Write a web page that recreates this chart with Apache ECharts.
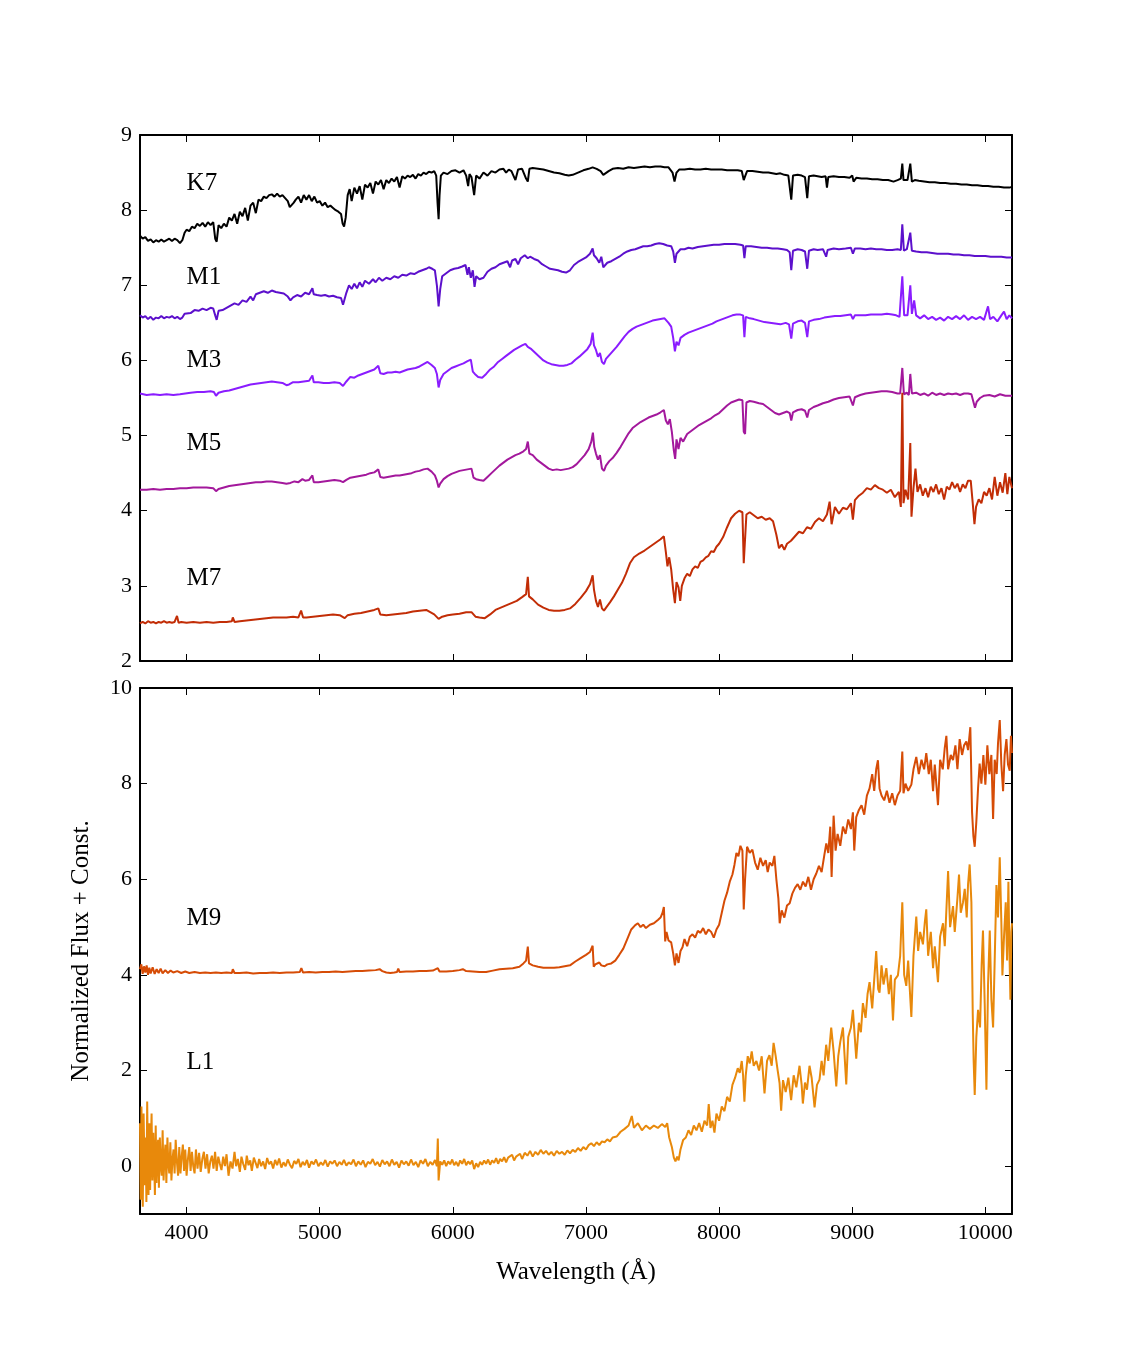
<!DOCTYPE html>
<html>
<head>
<meta charset="utf-8">
<script src="https://cdn.jsdelivr.net/npm/echarts@6/dist/echarts.min.js"></script>
<style>
  html, body { margin: 0; background: #fff; }
  #chart { width: 1125px; height: 1350px; }
</style>
</head>
<body>
<div id="chart"></div>
<script>
// spectra: [wavelength (A), normalized flux + const]
const k7 = [[3650,7.66],[3670,7.62],[3690,7.64],[3710,7.59],[3730,7.61],[3750,7.57],[3770,7.6],[3790,7.58],[3810,7.61],[3830,7.58],[3850,7.6],[3870,7.62],[3890,7.59],[3910,7.62],[3930,7.6],[3950,7.56],[3968,7.6],[3985,7.7],[4000,7.74],[4020,7.72],[4040,7.78],[4060,7.76],[4080,7.82],[4100,7.79],[4120,7.83],[4140,7.78],[4160,7.84],[4180,7.8],[4200,7.84],[4215,7.62],[4226,7.58],[4240,7.8],[4260,7.76],[4280,7.82],[4300,7.78],[4320,7.9],[4340,7.86],[4360,7.95],[4380,7.82],[4400,7.98],[4420,7.92],[4440,8.03],[4460,7.86],[4480,8.06],[4500,8.1],[4520,7.96],[4540,8.14],[4560,8.12],[4580,8.18],[4600,8.16],[4620,8.2],[4640,8.21],[4660,8.18],[4680,8.22],[4700,8.18],[4720,8.2],[4740,8.16],[4760,8.12],[4775,8.04],[4790,8.02],[4805,8.1],[4820,8.14],[4840,8.18],[4860,8.1],[4880,8.2],[4900,8.14],[4920,8.2],[4940,8.12],[4960,8.18],[4980,8.1],[5000,8.12],[5020,8.06],[5040,8.1],[5060,8.04],[5080,8.06],[5100,8.03],[5120,8.0],[5140,7.98],[5160,7.95],[5172,7.82],[5183,7.78],[5195,7.9],[5210,8.2],[5225,8.28],[5240,8.12],[5260,8.3],[5280,8.22],[5300,8.32],[5320,8.14],[5340,8.34],[5360,8.3],[5380,8.36],[5400,8.22],[5420,8.38],[5440,8.34],[5460,8.4],[5480,8.28],[5500,8.4],[5520,8.36],[5540,8.42],[5560,8.38],[5580,8.44],[5600,8.3],[5620,8.45],[5640,8.42],[5660,8.46],[5680,8.44],[5700,8.47],[5720,8.42],[5740,8.48],[5760,8.46],[5780,8.5],[5800,8.48],[5820,8.51],[5840,8.5],[5860,8.52],[5875,8.46],[5885,8.1],[5893,7.88],[5900,8.2],[5910,8.46],[5930,8.5],[5960,8.48],[5990,8.52],[6020,8.53],[6050,8.5],[6080,8.53],[6100,8.46],[6115,8.32],[6125,8.48],[6140,8.44],[6160,8.2],[6175,8.46],[6200,8.42],[6230,8.5],[6260,8.46],[6290,8.52],[6320,8.5],[6350,8.54],[6380,8.55],[6400,8.5],[6420,8.54],[6440,8.52],[6470,8.4],[6490,8.54],[6520,8.55],[6550,8.42],[6563,8.38],[6575,8.55],[6600,8.56],[6640,8.55],[6680,8.54],[6720,8.52],[6760,8.5],[6800,8.49],[6840,8.47],[6870,8.46],[6900,8.47],[6940,8.5],[6980,8.53],[7020,8.55],[7050,8.57],[7080,8.55],[7110,8.52],[7130,8.47],[7145,8.46],[7170,8.52],[7200,8.55],[7240,8.56],[7280,8.55],[7320,8.57],[7360,8.56],[7400,8.57],[7440,8.58],[7480,8.57],[7520,8.58],[7560,8.58],[7590,8.57],[7620,8.57],[7650,8.5],[7665,8.38],[7680,8.5],[7700,8.54],[7740,8.54],[7780,8.55],[7820,8.54],[7860,8.54],[7900,8.55],[7940,8.54],[7980,8.54],[8020,8.54],[8060,8.53],[8100,8.53],[8140,8.53],[8170,8.52],[8185,8.4],[8195,8.45],[8210,8.52],[8250,8.52],[8290,8.51],[8330,8.5],[8370,8.5],[8400,8.49],[8430,8.48],[8460,8.49],[8490,8.47],[8520,8.46],[8542,8.14],[8555,8.46],[8590,8.47],[8620,8.46],[8645,8.44],[8662,8.16],[8675,8.45],[8710,8.46],[8740,8.45],[8770,8.44],[8800,8.45],[8810,8.3],[8820,8.44],[8860,8.45],[8900,8.44],[8940,8.44],[8980,8.43],[9000,8.46],[9010,8.38],[9030,8.43],[9070,8.42],[9110,8.42],[9150,8.41],[9190,8.41],[9230,8.4],[9270,8.4],[9310,8.38],[9340,8.4],[9365,8.42],[9376,8.62],[9385,8.4],[9400,8.42],[9415,8.4],[9436,8.62],[9448,8.38],[9470,8.4],[9500,8.39],[9540,8.38],[9580,8.37],[9620,8.37],[9660,8.36],[9700,8.36],[9740,8.35],[9780,8.35],[9820,8.34],[9860,8.34],[9900,8.33],[9940,8.33],[9980,8.32],[10020,8.32],[10060,8.31],[10100,8.31],[10140,8.3],[10180,8.3],[10200,8.31]];

const m1 = [[3650,6.6],[3670,6.57],[3690,6.59],[3710,6.55],[3730,6.58],[3750,6.54],[3770,6.57],[3790,6.56],[3810,6.59],[3830,6.56],[3850,6.58],[3870,6.57],[3890,6.59],[3910,6.56],[3930,6.58],[3950,6.55],[3968,6.57],[3985,6.62],[4000,6.64],[4030,6.63],[4060,6.67],[4090,6.66],[4120,6.69],[4150,6.67],[4180,6.7],[4200,6.69],[4215,6.6],[4226,6.54],[4240,6.66],[4270,6.67],[4300,6.7],[4330,6.73],[4360,6.76],[4390,6.74],[4420,6.8],[4450,6.78],[4480,6.85],[4500,6.8],[4520,6.88],[4550,6.9],[4580,6.92],[4610,6.9],[4640,6.93],[4670,6.91],[4700,6.9],[4730,6.89],[4760,6.85],[4780,6.8],[4800,6.84],[4830,6.87],[4860,6.85],[4890,6.9],[4920,6.88],[4945,6.96],[4955,6.88],[4980,6.87],[5010,6.86],[5040,6.87],[5070,6.85],[5100,6.86],[5130,6.84],[5160,6.83],[5175,6.74],[5188,6.72],[5200,6.9],[5220,7.0],[5240,6.95],[5260,7.02],[5280,6.96],[5300,7.04],[5320,6.98],[5340,7.06],[5370,7.02],[5400,7.08],[5420,7.04],[5445,7.1],[5470,7.06],[5500,7.1],[5530,7.08],[5560,7.12],[5590,7.1],[5620,7.14],[5650,7.13],[5680,7.16],[5710,7.15],[5740,7.18],[5770,7.2],[5800,7.22],[5820,7.24],[5845,7.22],[5865,7.2],[5880,7.0],[5893,6.72],[5905,6.95],[5920,7.12],[5950,7.16],[5980,7.2],[6010,7.22],[6040,7.23],[6070,7.25],[6095,7.27],[6110,7.14],[6120,7.24],[6135,7.1],[6150,7.2],[6163,6.98],[6175,7.12],[6200,7.08],[6230,7.1],[6260,7.18],[6290,7.22],[6320,7.24],[6350,7.28],[6380,7.3],[6410,7.32],[6430,7.24],[6445,7.33],[6470,7.35],[6490,7.28],[6510,7.36],[6540,7.4],[6563,7.36],[6580,7.38],[6610,7.35],[6640,7.33],[6670,7.28],[6700,7.25],[6730,7.22],[6760,7.21],[6790,7.2],[6820,7.18],[6850,7.17],[6880,7.2],[6910,7.27],[6940,7.31],[6970,7.34],[7000,7.37],[7030,7.42],[7050,7.49],[7060,7.4],[7080,7.36],[7100,7.3],[7115,7.38],[7130,7.24],[7145,7.22],[7160,7.3],[7190,7.32],[7220,7.35],[7250,7.38],[7280,7.42],[7310,7.45],[7340,7.47],[7370,7.48],[7400,7.5],[7430,7.52],[7460,7.52],[7490,7.53],[7520,7.55],[7550,7.56],[7580,7.55],[7610,7.53],[7640,7.52],[7655,7.45],[7668,7.3],[7680,7.42],[7695,7.45],[7710,7.48],[7740,7.48],[7770,7.5],[7800,7.49],[7840,7.51],[7880,7.52],[7920,7.53],[7960,7.54],[8000,7.54],[8040,7.55],[8080,7.55],[8120,7.55],[8160,7.54],[8180,7.53],[8190,7.36],[8200,7.52],[8240,7.52],[8280,7.51],[8320,7.5],[8360,7.5],[8400,7.49],[8440,7.49],[8480,7.48],[8510,7.47],[8530,7.44],[8542,7.2],[8555,7.46],[8590,7.48],[8620,7.47],[8645,7.45],[8662,7.22],[8675,7.46],[8710,7.48],[8740,7.47],[8780,7.48],[8804,7.38],[8815,7.47],[8860,7.49],[8900,7.48],[8950,7.49],[8990,7.5],[9005,7.42],[9020,7.49],[9060,7.49],[9100,7.48],[9140,7.49],[9180,7.48],[9220,7.48],[9260,7.47],[9300,7.47],[9340,7.48],[9365,7.47],[9376,7.81],[9388,7.46],[9410,7.48],[9425,7.46],[9436,7.7],[9448,7.46],[9480,7.45],[9520,7.44],[9560,7.44],[9600,7.43],[9640,7.42],[9680,7.42],[9720,7.42],[9760,7.41],[9800,7.41],[9840,7.4],[9880,7.4],[9920,7.39],[9960,7.39],[10000,7.39],[10040,7.38],[10080,7.38],[10120,7.38],[10160,7.37],[10200,7.37]];

const m3 = [[3650,5.56],[3700,5.54],[3750,5.55],[3800,5.54],[3850,5.55],[3900,5.54],[3950,5.55],[3990,5.56],[4030,5.57],[4080,5.58],[4130,5.58],[4180,5.59],[4205,5.58],[4221,5.53],[4240,5.57],[4280,5.59],[4320,5.6],[4360,5.62],[4400,5.64],[4440,5.66],[4480,5.68],[4520,5.69],[4560,5.7],[4600,5.71],[4640,5.72],[4680,5.71],[4720,5.7],[4750,5.67],[4770,5.68],[4800,5.71],[4840,5.71],[4880,5.72],[4920,5.73],[4945,5.8],[4955,5.71],[4990,5.71],[5030,5.7],[5070,5.7],[5110,5.71],[5150,5.7],[5175,5.66],[5188,5.64],[5200,5.72],[5230,5.78],[5260,5.77],[5290,5.8],[5320,5.82],[5350,5.84],[5380,5.86],[5410,5.88],[5440,5.93],[5455,5.83],[5480,5.82],[5510,5.84],[5540,5.84],[5570,5.85],[5600,5.84],[5630,5.86],[5660,5.88],[5690,5.89],[5720,5.9],[5750,5.92],[5780,5.95],[5810,5.98],[5840,5.94],[5865,5.9],[5880,5.82],[5893,5.64],[5905,5.74],[5930,5.82],[5960,5.86],[5990,5.9],[6020,5.92],[6050,5.94],[6080,5.96],[6110,5.99],[6135,6.01],[6150,5.85],[6165,5.82],[6190,5.78],[6220,5.77],[6250,5.82],[6280,5.88],[6310,5.92],[6340,5.98],[6370,6.02],[6400,6.06],[6430,6.1],[6460,6.14],[6490,6.17],[6520,6.2],[6545,6.22],[6563,6.18],[6590,6.15],[6620,6.1],[6650,6.05],[6680,6.0],[6710,5.97],[6740,5.95],[6770,5.94],[6800,5.93],[6830,5.93],[6860,5.94],[6890,5.96],[6920,6.01],[6950,6.05],[6980,6.1],[7010,6.15],[7035,6.22],[7050,6.37],[7060,6.2],[7075,6.14],[7090,6.05],[7105,6.1],[7120,5.98],[7135,5.95],[7150,6.02],[7170,6.06],[7200,6.12],[7230,6.18],[7260,6.25],[7290,6.32],[7320,6.38],[7350,6.42],[7380,6.45],[7410,6.47],[7440,6.49],[7470,6.51],[7500,6.53],[7530,6.54],[7560,6.55],[7590,6.56],[7620,6.5],[7640,6.45],[7655,6.3],[7668,6.12],[7680,6.25],[7695,6.2],[7710,6.3],[7740,6.34],[7770,6.37],[7800,6.39],[7830,6.41],[7860,6.43],[7890,6.45],[7920,6.47],[7950,6.49],[7980,6.52],[8010,6.54],[8040,6.56],[8070,6.58],[8100,6.6],[8130,6.61],[8160,6.61],[8180,6.6],[8190,6.31],[8200,6.58],[8230,6.56],[8260,6.55],[8300,6.53],[8340,6.51],[8380,6.5],[8420,6.49],[8460,6.48],[8500,6.5],[8525,6.48],[8542,6.29],[8555,6.49],[8590,6.52],[8620,6.53],[8645,6.5],[8662,6.31],[8675,6.52],[8710,6.54],[8750,6.55],[8790,6.57],[8830,6.58],[8870,6.59],[8910,6.59],[8950,6.6],[8990,6.61],[9005,6.55],[9020,6.6],[9060,6.6],[9100,6.6],[9140,6.61],[9180,6.61],[9220,6.61],[9260,6.62],[9300,6.61],[9330,6.6],[9355,6.58],[9376,7.12],[9390,6.6],[9415,6.6],[9436,7.0],[9448,6.62],[9465,6.8],[9480,6.6],[9510,6.56],[9540,6.6],[9570,6.55],[9600,6.58],[9630,6.54],[9660,6.57],[9690,6.53],[9720,6.58],[9750,6.55],[9780,6.59],[9810,6.55],[9840,6.6],[9870,6.54],[9900,6.58],[9930,6.55],[9960,6.58],[9990,6.54],[10020,6.72],[10035,6.55],[10060,6.58],[10090,6.52],[10120,6.6],[10140,6.65],[10160,6.55],[10180,6.6],[10200,6.56]];

const m5 = [[3650,4.28],[3700,4.28],[3750,4.29],[3800,4.28],[3850,4.29],[3900,4.29],[3950,4.3],[4000,4.3],[4050,4.31],[4100,4.31],[4150,4.31],[4200,4.3],[4221,4.26],[4240,4.29],[4280,4.31],[4320,4.33],[4360,4.34],[4400,4.35],[4440,4.36],[4480,4.37],[4520,4.38],[4560,4.38],[4600,4.39],[4640,4.39],[4680,4.38],[4720,4.37],[4750,4.36],[4780,4.37],[4810,4.39],[4840,4.38],[4870,4.42],[4890,4.4],[4920,4.41],[4945,4.47],[4955,4.38],[4990,4.38],[5030,4.39],[5070,4.4],[5110,4.41],[5150,4.4],[5175,4.38],[5188,4.36],[5200,4.41],[5230,4.44],[5260,4.45],[5290,4.46],[5320,4.47],[5350,4.48],[5380,4.5],[5410,4.51],[5440,4.55],[5455,4.45],[5480,4.44],[5510,4.45],[5540,4.46],[5570,4.47],[5600,4.47],[5630,4.48],[5660,4.49],[5690,4.5],[5720,4.52],[5750,4.53],[5780,4.55],[5810,4.56],[5840,4.52],[5865,4.47],[5880,4.4],[5893,4.31],[5905,4.36],[5930,4.42],[5960,4.46],[5990,4.49],[6020,4.51],[6050,4.53],[6080,4.54],[6110,4.55],[6140,4.56],[6155,4.44],[6175,4.42],[6200,4.41],[6230,4.4],[6260,4.45],[6290,4.5],[6320,4.55],[6350,4.6],[6380,4.64],[6410,4.68],[6440,4.71],[6470,4.74],[6500,4.76],[6530,4.79],[6550,4.82],[6563,4.92],[6575,4.76],[6600,4.74],[6630,4.68],[6660,4.64],[6690,4.6],[6720,4.56],[6750,4.54],[6780,4.55],[6810,4.54],[6840,4.55],[6870,4.56],[6900,4.58],[6930,4.62],[6960,4.68],[6990,4.74],[7020,4.82],[7040,4.92],[7052,5.04],[7062,4.85],[7075,4.76],[7090,4.68],[7105,4.74],[7120,4.56],[7135,4.53],[7150,4.6],[7175,4.66],[7200,4.7],[7230,4.77],[7260,4.85],[7290,4.94],[7320,5.03],[7350,5.1],[7380,5.14],[7410,5.18],[7440,5.21],[7470,5.24],[7500,5.26],[7530,5.28],[7560,5.31],[7585,5.34],[7600,5.2],[7615,5.15],[7630,5.22],[7645,5.05],[7660,4.8],[7670,4.69],[7680,4.95],[7695,4.82],[7710,4.97],[7730,4.92],[7760,5.02],[7790,5.06],[7820,5.1],[7850,5.14],[7880,5.17],[7910,5.2],[7940,5.23],[7970,5.27],[8000,5.3],[8030,5.35],[8060,5.4],[8090,5.44],[8120,5.46],[8150,5.48],[8175,5.47],[8185,5.05],[8195,5.02],[8205,5.44],[8230,5.46],[8260,5.45],[8300,5.43],[8330,5.42],[8360,5.38],[8390,5.34],[8420,5.3],[8450,5.28],[8480,5.3],[8510,5.32],[8530,5.3],[8542,5.2],[8555,5.31],[8590,5.34],[8620,5.35],[8645,5.33],[8662,5.24],[8675,5.34],[8710,5.38],[8740,5.4],[8780,5.43],[8820,5.45],[8860,5.48],[8900,5.5],[8940,5.51],[8980,5.52],[9005,5.4],[9020,5.51],[9060,5.54],[9100,5.56],[9140,5.57],[9180,5.58],[9220,5.59],[9260,5.59],[9300,5.58],[9340,5.56],[9360,5.56],[9376,5.9],[9388,5.55],[9410,5.57],[9425,5.54],[9436,5.82],[9448,5.56],[9480,5.57],[9510,5.54],[9540,5.56],[9570,5.53],[9600,5.57],[9630,5.54],[9660,5.56],[9690,5.54],[9720,5.56],[9750,5.55],[9780,5.56],[9810,5.54],[9840,5.56],[9870,5.56],[9895,5.55],[9910,5.45],[9922,5.37],[9935,5.45],[9960,5.5],[9990,5.53],[10030,5.54],[10070,5.52],[10110,5.55],[10150,5.53],[10200,5.53]];

const m7 = [[3650,2.5],[3670,2.52],[3690,2.5],[3710,2.53],[3730,2.51],[3750,2.52],[3770,2.5],[3790,2.52],[3810,2.51],[3830,2.53],[3850,2.51],[3870,2.52],[3890,2.51],[3910,2.52],[3928,2.6],[3940,2.51],[3960,2.52],[4000,2.51],[4050,2.52],[4100,2.51],[4150,2.52],[4200,2.51],[4250,2.52],[4300,2.52],[4340,2.53],[4347,2.58],[4360,2.52],[4400,2.53],[4450,2.54],[4500,2.55],[4550,2.56],[4600,2.57],[4650,2.58],[4700,2.58],[4750,2.58],[4800,2.59],[4840,2.58],[4860,2.67],[4875,2.58],[4900,2.58],[4950,2.59],[5000,2.6],[5050,2.61],[5100,2.62],[5150,2.61],[5188,2.57],[5210,2.61],[5260,2.63],[5310,2.64],[5360,2.66],[5410,2.68],[5440,2.7],[5455,2.62],[5500,2.61],[5550,2.62],[5600,2.63],[5650,2.64],[5700,2.66],[5750,2.67],[5800,2.68],[5830,2.65],[5860,2.62],[5893,2.56],[5920,2.59],[5960,2.61],[6000,2.62],[6050,2.63],[6100,2.65],[6140,2.65],[6170,2.59],[6200,2.58],[6240,2.57],[6280,2.62],[6320,2.68],[6360,2.71],[6400,2.74],[6440,2.77],[6480,2.8],[6520,2.85],[6550,2.89],[6563,3.12],[6572,2.86],[6600,2.82],[6640,2.75],[6680,2.71],[6720,2.68],[6760,2.67],[6800,2.67],[6840,2.68],[6880,2.7],[6920,2.76],[6960,2.84],[7000,2.93],[7030,3.02],[7050,3.14],[7060,2.95],[7075,2.8],[7090,2.72],[7105,2.82],[7120,2.7],[7135,2.67],[7155,2.72],[7180,2.78],[7210,2.86],[7240,2.95],[7270,3.04],[7300,3.16],[7330,3.3],[7360,3.38],[7400,3.43],[7440,3.47],[7480,3.52],[7520,3.57],[7560,3.62],[7585,3.66],[7600,3.45],[7612,3.26],[7625,3.38],[7640,3.22],[7655,2.95],[7668,2.77],[7680,3.05],[7695,2.98],[7708,2.8],[7720,3.0],[7740,3.1],[7760,3.16],[7780,3.13],[7800,3.22],[7820,3.26],[7840,3.24],[7860,3.32],[7880,3.34],[7900,3.38],[7920,3.4],[7940,3.46],[7960,3.45],[7980,3.52],[8000,3.56],[8030,3.65],[8060,3.78],[8090,3.9],[8120,3.96],[8150,4.0],[8175,3.98],[8185,3.3],[8195,3.28],[8205,3.95],[8230,3.98],[8260,3.94],[8290,3.9],[8320,3.92],[8350,3.88],[8380,3.9],[8405,3.86],[8430,3.68],[8450,3.5],[8470,3.55],[8490,3.48],[8510,3.56],[8540,3.6],[8570,3.66],[8600,3.72],[8630,3.7],[8660,3.78],[8690,3.76],[8720,3.85],[8750,3.9],[8780,3.86],[8810,3.95],[8830,4.12],[8845,3.82],[8870,4.05],[8900,3.96],[8930,4.04],[8960,4.02],[8990,4.1],[9005,3.88],[9020,4.14],[9050,4.2],[9080,4.24],[9110,4.3],[9140,4.28],[9170,4.34],[9200,4.3],[9230,4.28],[9260,4.24],[9290,4.28],[9320,4.18],[9350,4.25],[9365,4.05],[9376,5.57],[9385,4.1],[9400,4.28],[9420,4.15],[9436,4.9],[9445,3.92],[9460,4.3],[9475,4.56],[9490,4.25],[9510,4.35],[9530,4.2],[9550,4.3],[9570,4.18],[9590,4.32],[9610,4.25],[9630,4.35],[9650,4.22],[9670,4.3],[9690,4.15],[9710,4.32],[9730,4.28],[9750,4.38],[9770,4.3],[9790,4.36],[9810,4.25],[9830,4.35],[9850,4.3],[9870,4.4],[9890,4.4],[9905,4.1],[9918,3.82],[9930,4.05],[9950,4.15],[9970,4.1],[9990,4.25],[10010,4.2],[10030,4.3],[10050,4.15],[10070,4.45],[10090,4.2],[10110,4.38],[10130,4.24],[10150,4.5],[10165,4.22],[10180,4.45],[10200,4.3]];

const m9 = [[3650,4.12],[3660,4.22],[3670,4.02],[3680,4.18],[3690,4.05],[3700,4.2],[3710,4.0],[3720,4.15],[3730,4.03],[3745,4.16],[3760,4.02],[3775,4.12],[3790,4.04],[3805,4.13],[3820,4.03],[3840,4.1],[3860,4.04],[3880,4.09],[3900,4.05],[3930,4.08],[3960,4.04],[3990,4.07],[4020,4.04],[4060,4.06],[4100,4.04],[4140,4.05],[4180,4.04],[4220,4.05],[4260,4.04],[4300,4.05],[4340,4.04],[4347,4.12],[4360,4.04],[4400,4.04],[4450,4.05],[4500,4.03],[4550,4.04],[4600,4.04],[4650,4.05],[4700,4.04],[4750,4.05],[4800,4.05],[4850,4.06],[4862,4.14],[4875,4.05],[4920,4.06],[4970,4.05],[5020,4.06],[5070,4.06],[5120,4.07],[5170,4.06],[5220,4.07],[5270,4.08],[5320,4.08],[5370,4.09],[5420,4.1],[5450,4.12],[5470,4.08],[5500,4.05],[5530,4.04],[5560,4.05],[5580,4.06],[5590,4.13],[5600,4.06],[5650,4.07],[5700,4.07],[5750,4.08],[5800,4.08],[5850,4.09],[5887,4.14],[5900,4.07],[5950,4.07],[6000,4.08],[6050,4.1],[6075,4.12],[6100,4.08],[6150,4.07],[6200,4.06],[6250,4.06],[6300,4.09],[6350,4.12],[6400,4.13],[6450,4.14],[6500,4.17],[6530,4.24],[6550,4.3],[6563,4.59],[6572,4.24],[6600,4.2],[6640,4.17],[6680,4.15],[6720,4.15],[6760,4.15],[6800,4.16],[6840,4.18],[6880,4.2],[6920,4.28],[6960,4.35],[7000,4.42],[7030,4.48],[7050,4.61],[7058,4.17],[7070,4.22],[7085,4.18],[7100,4.26],[7115,4.2],[7140,4.18],[7160,4.22],[7190,4.24],[7220,4.3],[7250,4.42],[7280,4.55],[7310,4.75],[7340,4.95],[7370,5.04],[7390,5.08],[7410,5.0],[7430,5.05],[7450,4.98],[7480,5.05],[7510,5.08],[7540,5.15],[7560,5.2],[7575,5.3],[7585,5.42],[7595,4.7],[7605,4.9],[7620,4.72],[7640,4.68],[7655,4.45],[7668,4.2],[7680,4.45],[7695,4.25],[7710,4.5],[7725,4.58],[7740,4.75],[7760,4.6],[7780,4.8],[7800,4.85],[7820,4.78],[7840,4.92],[7860,4.88],[7880,4.98],[7900,4.85],[7920,4.95],[7940,4.9],[7960,4.78],[7980,4.95],[8000,5.05],[8020,5.3],[8040,5.55],[8060,5.72],[8080,5.95],[8100,6.1],[8115,6.3],[8130,6.55],[8145,6.48],[8160,6.7],[8175,6.6],[8185,5.37],[8195,6.0],[8210,6.68],[8230,6.55],[8250,6.62],[8270,6.35],[8290,6.2],[8310,6.45],[8330,6.28],[8350,6.4],[8365,6.15],[8380,6.35],[8400,6.28],[8415,6.49],[8430,6.0],[8445,5.6],[8455,5.08],[8470,5.35],[8490,5.2],[8510,5.45],[8530,5.5],[8550,5.7],[8570,5.82],[8590,5.9],[8610,5.78],[8630,5.95],[8650,5.85],[8670,6.05],[8690,5.78],[8710,6.0],[8730,6.12],[8750,6.28],[8770,6.15],[8790,6.5],[8805,6.75],[8820,6.55],[8835,7.1],[8845,6.05],[8860,7.33],[8875,6.6],[8890,6.95],[8910,6.7],[8930,7.1],[8950,6.95],[8970,7.25],[8990,7.05],[9005,7.4],[9015,6.6],[9030,7.3],[9050,7.45],[9070,7.55],[9090,7.35],[9110,7.75],[9130,7.9],[9150,8.2],[9165,7.85],[9180,8.3],[9193,8.49],[9205,7.9],[9220,7.75],[9240,7.65],[9260,7.85],[9280,7.6],[9300,7.8],[9320,7.55],[9340,7.75],[9360,7.85],[9376,8.67],[9385,7.8],[9400,8.0],[9420,7.85],[9444,7.98],[9460,8.3],[9481,8.56],[9500,8.2],[9520,8.5],[9540,8.3],[9556,8.64],[9575,8.2],[9590,8.5],[9607,7.84],[9620,8.4],[9644,7.55],[9660,8.5],[9680,8.3],[9695,8.75],[9707,9.0],[9720,8.3],[9740,8.6],[9757,8.49],[9775,8.8],[9790,8.3],[9807,8.93],[9825,8.6],[9840,8.8],[9857,8.88],[9870,8.7],[9887,9.18],[9900,7.4],[9910,6.9],[9920,6.68],[9932,7.2],[9945,7.9],[9957,8.42],[9970,8.0],[9985,8.6],[10000,7.98],[10015,8.8],[10030,8.2],[10045,8.6],[10058,7.26],[10070,8.5],[10085,8.2],[10095,8.85],[10108,9.33],[10120,8.4],[10133,7.84],[10145,8.6],[10158,8.93],[10170,8.4],[10183,8.27],[10192,9.0],[10200,8.64]];

const l1 = [[3650,0.9],[3655,-0.7],[3661,1.25],[3666,-0.2],[3671,-0.85],[3677,1.1],[3682,0.3],[3687,-0.4],[3693,0.6],[3698,-0.75],[3704,1.35],[3709,0.2],[3714,-0.6],[3720,0.9],[3726,-0.5],[3731,0.4],[3737,1.1],[3743,-0.3],[3750,0.7],[3756,0.1],[3762,-0.6],[3768,0.85],[3774,-0.35],[3780,0.3],[3786,0.55],[3792,-0.45],[3799,0.6],[3806,0.0],[3813,-0.2],[3820,0.75],[3827,-0.3],[3834,0.2],[3841,0.45],[3848,-0.35],[3856,0.6],[3863,0.05],[3870,-0.15],[3878,0.5],[3886,-0.3],[3894,0.15],[3902,0.35],[3910,-0.15],[3918,0.55],[3927,0.1],[3936,-0.2],[3945,0.4],[3954,-0.15],[3963,0.2],[3972,0.45],[3981,-0.1],[3990,0.35],[4000,-0.2],[4010,0.15],[4020,0.4],[4030,-0.1],[4040,0.3],[4050,0.0],[4060,-0.15],[4070,0.35],[4082,-0.05],[4094,0.28],[4106,-0.12],[4118,0.15],[4130,0.3],[4142,-0.05],[4154,0.25],[4166,-0.15],[4178,0.1],[4190,0.22],[4202,-0.05],[4214,0.3],[4226,-0.1],[4238,0.2],[4250,0.05],[4262,-0.08],[4275,0.2],[4288,0.0],[4300,0.25],[4315,-0.2],[4330,0.1],[4345,-0.05],[4360,0.3],[4372,0.0],[4385,0.15],[4400,-0.12],[4412,0.2],[4425,0.05],[4440,-0.08],[4452,0.22],[4465,0.02],[4478,0.12],[4490,-0.1],[4505,0.18],[4520,0.06],[4532,-0.04],[4545,0.15],[4560,0.0],[4575,0.1],[4590,-0.06],[4605,0.17],[4620,0.04],[4635,0.1],[4650,-0.05],[4665,0.13],[4680,0.02],[4695,0.16],[4712,-0.03],[4728,0.08],[4744,0.0],[4760,0.14],[4776,0.03],[4792,-0.04],[4808,0.11],[4824,0.05],[4840,0.15],[4856,-0.02],[4872,0.09],[4888,0.02],[4904,0.13],[4920,-0.03],[4938,0.1],[4955,0.04],[4972,0.14],[4990,0.0],[5008,0.08],[5025,0.02],[5042,0.13],[5060,-0.01],[5078,0.1],[5095,0.05],[5112,0.12],[5130,0.0],[5148,0.09],[5165,0.03],[5182,0.13],[5200,0.01],[5218,0.08],[5236,0.04],[5254,0.14],[5272,0.0],[5290,0.1],[5308,0.03],[5326,0.12],[5344,-0.02],[5362,0.09],[5380,0.05],[5398,0.15],[5416,0.02],[5434,0.09],[5452,-0.01],[5470,0.13],[5488,0.04],[5506,0.1],[5524,0.0],[5542,0.14],[5560,0.03],[5578,0.09],[5596,-0.03],[5614,0.12],[5632,0.04],[5650,0.1],[5668,0.01],[5686,0.14],[5704,0.02],[5722,0.09],[5740,-0.02],[5758,0.12],[5776,0.05],[5794,0.15],[5812,0.0],[5830,0.09],[5848,0.03],[5866,0.13],[5880,0.0],[5887,0.58],[5893,-0.3],[5905,0.1],[5920,0.03],[5935,0.12],[5950,0.0],[5965,0.1],[5980,0.04],[5995,0.14],[6010,0.02],[6025,0.09],[6040,0.0],[6055,0.12],[6070,0.05],[6085,0.15],[6100,0.02],[6115,0.1],[6130,0.04],[6145,0.12],[6160,-0.06],[6175,0.06],[6190,-0.02],[6205,0.09],[6220,0.03],[6235,0.12],[6250,0.05],[6265,0.14],[6280,0.03],[6295,0.12],[6310,0.07],[6325,0.17],[6340,0.05],[6355,0.15],[6370,0.1],[6385,0.19],[6400,0.08],[6415,0.18],[6430,0.14],[6445,0.24],[6460,0.12],[6475,0.2],[6490,0.16],[6505,0.26],[6520,0.15],[6540,0.28],[6560,0.22],[6580,0.32],[6600,0.2],[6620,0.3],[6640,0.24],[6660,0.34],[6680,0.26],[6700,0.32],[6720,0.24],[6740,0.3],[6760,0.22],[6780,0.32],[6800,0.26],[6820,0.3],[6840,0.24],[6860,0.33],[6880,0.27],[6900,0.34],[6920,0.3],[6940,0.38],[6960,0.32],[6980,0.4],[7000,0.35],[7020,0.44],[7040,0.48],[7060,0.42],[7080,0.5],[7100,0.44],[7120,0.52],[7140,0.5],[7160,0.56],[7180,0.52],[7200,0.6],[7230,0.62],[7260,0.72],[7290,0.78],[7320,0.85],[7344,1.05],[7360,0.8],[7390,0.9],[7420,0.75],[7450,0.85],[7480,0.78],[7510,0.85],[7540,0.8],[7570,0.88],[7595,0.82],[7610,0.9],[7625,0.6],[7645,0.4],[7660,0.18],[7672,0.1],[7685,0.2],[7696,0.12],[7710,0.35],[7730,0.55],[7750,0.6],[7770,0.75],[7790,0.65],[7810,0.85],[7830,0.75],[7850,0.9],[7870,0.72],[7890,0.95],[7910,0.85],[7922,1.3],[7935,0.8],[7950,0.95],[7965,0.7],[7980,1.1],[8000,0.95],[8020,1.25],[8040,1.15],[8060,1.45],[8080,1.35],[8100,1.7],[8120,1.85],[8140,2.05],[8155,1.95],[8170,2.2],[8180,1.9],[8190,1.35],[8200,1.9],[8215,2.3],[8230,2.15],[8245,2.4],[8260,2.1],[8280,2.2],[8300,2.0],[8320,2.3],[8341,1.52],[8360,2.2],[8378,2.32],[8395,2.1],[8409,2.58],[8425,2.3],[8440,2.0],[8454,1.74],[8466,1.16],[8480,1.8],[8500,1.55],[8520,1.85],[8541,1.38],[8560,1.9],[8580,1.65],[8604,2.1],[8620,1.7],[8629,1.31],[8645,1.75],[8660,1.6],[8679,2.1],[8695,1.85],[8717,1.23],[8735,1.7],[8754,1.81],[8770,2.2],[8785,1.9],[8804,2.54],[8820,2.2],[8842,2.9],[8860,2.4],[8880,1.67],[8895,2.3],[8910,2.6],[8930,2.9],[8955,1.71],[8970,2.7],[8990,2.9],[9005,3.27],[9030,2.25],[9050,3.0],[9065,2.8],[9080,3.41],[9100,3.1],[9115,3.6],[9130,3.85],[9150,3.3],[9165,3.9],[9180,4.5],[9195,3.7],[9205,3.63],[9220,4.2],[9235,3.8],[9256,4.14],[9275,3.6],[9290,4.0],[9306,3.05],[9320,3.9],[9343,3.99],[9360,4.4],[9376,5.52],[9390,4.0],[9406,3.77],[9420,4.3],[9444,3.12],[9460,4.4],[9481,5.22],[9495,4.5],[9510,4.9],[9531,4.64],[9545,5.1],[9556,5.37],[9570,4.4],[9590,4.9],[9607,4.14],[9620,4.6],[9644,3.85],[9660,4.8],[9682,5.08],[9695,4.6],[9720,6.17],[9735,5.0],[9757,5.44],[9770,4.9],[9790,5.6],[9802,6.1],[9815,5.3],[9832,5.52],[9845,5.8],[9860,5.2],[9870,5.9],[9882,6.31],[9895,5.52],[9905,3.2],[9912,2.2],[9920,1.49],[9932,2.7],[9945,3.27],[9960,2.9],[9972,4.2],[9982,4.93],[9995,3.4],[10008,1.6],[10020,3.8],[10033,4.93],[10045,3.5],[10058,2.9],[10070,4.3],[10083,5.88],[10095,5.2],[10108,6.46],[10120,5.1],[10128,3.99],[10140,4.8],[10153,5.52],[10163,4.3],[10173,5.95],[10180,4.6],[10188,3.48],[10195,4.9],[10200,5.08]];

// spectral type labels: [wavelength, flux, text]
const topLabels = [[4000, 8.36, 'K7'], [4000, 7.11, 'M1'], [4000, 6.0, 'M3'], [4000, 4.9, 'M5'], [4000, 3.1, 'M7']];
const bottomLabels = [[4000, 5.19, 'M9'], [4000, 2.16, 'L1']];

const xTicks = [4000, 5000, 6000, 7000, 8000, 9000, 10000];
const topYTicks = [2, 3, 4, 5, 6, 7, 8, 9];
const bottomYTicks = [0, 2, 4, 6, 8, 10];

const FONT = '"Liberation Serif", "DejaVu Serif", serif';

const chart = echarts.init(document.getElementById('chart'));

function xAxis(gridIndex, position, withLabels) {
  return {
    type: 'value', gridIndex, position, min: 3650, max: 10200,
    axisLine: { show: true, onZero: false, lineStyle: { color: '#000', width: 2 } },
    axisTick: { show: true, inside: true, length: 7, customValues: xTicks, lineStyle: { color: '#000', width: 1 } },
    axisLabel: {
      show: withLabels, customValues: xTicks, formatter: v => String(v),
      color: '#000', fontSize: 22, fontFamily: FONT, margin: 8
    },
    splitLine: { show: false },
    name: withLabels ? 'Wavelength (Å)' : '',
    nameLocation: 'middle', nameGap: 46,
    nameTextStyle: { color: '#000', fontSize: 25, fontFamily: FONT }
  };
}

function yAxis(gridIndex, position, min, max, ticks, withLabels, name) {
  return {
    type: 'value', gridIndex, position, min, max,
    axisLine: { show: true, onZero: false, lineStyle: { color: '#000', width: 2 } },
    axisTick: { show: true, inside: true, length: 7, customValues: ticks, lineStyle: { color: '#000', width: 1 } },
    axisLabel: { show: withLabels, customValues: ticks, color: '#000', fontSize: 22, fontFamily: FONT, margin: 8 },
    splitLine: { show: false },
    name: name || '',
    nameLocation: 'middle', nameGap: 46,
    nameTextStyle: { color: '#000', fontSize: 25, fontFamily: FONT }
  };
}

function spectrum(data, color, panel) {
  return {
    type: 'line', data, xAxisIndex: panel * 2, yAxisIndex: panel * 2,
    showSymbol: false, symbol: 'none', silent: true,
    lineStyle: { color, width: 2 }
  };
}

function labels(data, panel) {
  return {
    type: 'scatter', data, xAxisIndex: panel * 2, yAxisIndex: panel * 2,
    symbolSize: 0, silent: true,
    itemStyle: { opacity: 1 },
    label: {
      show: true, position: 'right', distance: 0, opacity: 1,
      formatter: p => p.data[2],
      color: '#000', fontSize: 25, fontFamily: FONT
    }
  };
}

chart.setOption({
  animation: false,
  backgroundColor: '#fff',
  grid: [
    { left: 140, top: 135, width: 872, height: 526 },
    { left: 140, top: 688, width: 872, height: 526 }
  ],
  xAxis: [
    xAxis(0, 'bottom', false),
    xAxis(0, 'top', false),
    xAxis(1, 'bottom', true),
    xAxis(1, 'top', false)
  ],
  yAxis: [
    yAxis(0, 'left', 2, 9, topYTicks, true),
    yAxis(0, 'right', 2, 9, topYTicks, false),
    yAxis(1, 'left', -1, 10, bottomYTicks, true, 'Normalized Flux + Const.'),
    yAxis(1, 'right', -1, 10, bottomYTicks, false)
  ],
  series: [
    spectrum(k7, '#000000', 0),
    spectrum(m1, '#5c10cc', 0),
    spectrum(m3, '#8a1cff', 0),
    spectrum(m5, '#a3189c', 0),
    spectrum(m7, '#c22d06', 0),
    spectrum(m9, '#d64c06', 1),
    spectrum(l1, '#e8890b', 1),
    labels(topLabels, 0),
    labels(bottomLabels, 1)
  ]
});
</script>
</body>
</html>
